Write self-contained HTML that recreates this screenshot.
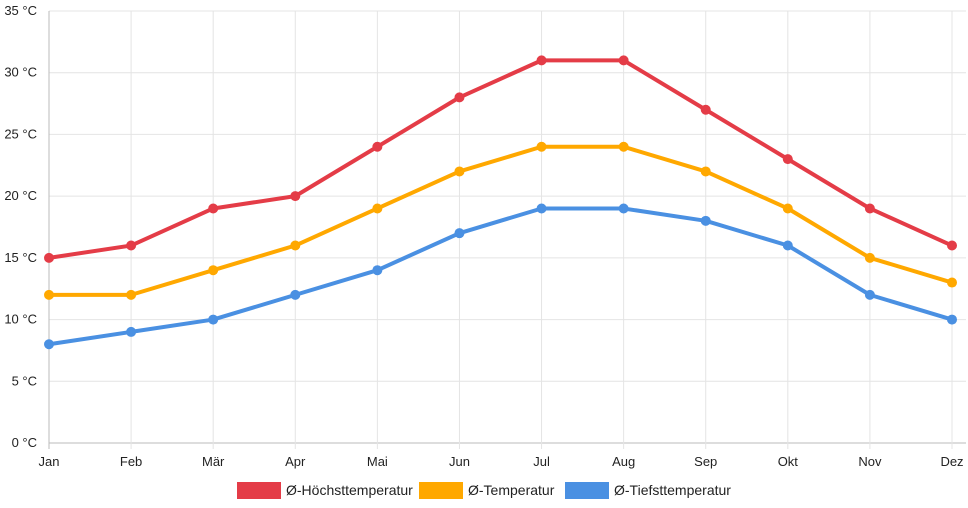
<!DOCTYPE html>
<html><head><meta charset="utf-8">
<style>
html,body{margin:0;padding:0;background:#fff;}
svg{display:block;font-family:"Liberation Sans",Arial,sans-serif;}
</style></head>
<body>
<svg id="chart" width="968" height="508">
<g id="grid"></g>
<g id="axes"></g>
<g id="series"></g>
<g id="legend"></g>
</svg>
<script>
const months = ["Jan","Feb","Mär","Apr","Mai","Jun","Jul","Aug","Sep","Okt","Nov","Dez"];
const highTemps = [15,16,19,20,24,28,31,31,27,23,19,16];
const avgTemps = [12,12,14,16,19,22,24,24,22,19,15,13];
const lowTemps = [8,9,10,12,14,17,19,19,18,16,12,10];
const yTicks = [0,5,10,15,20,25,30,35];
const seriesNames = ["Ø-Höchsttemperatur","Ø-Temperatur","Ø-Tiefsttemperatur"];

const NS="http://www.w3.org/2000/svg";
const x0=49,x1=952,yTop=11,yBot=443,yMax=35;
const xs=i=>x0+(x1-x0)*i/(months.length-1);
const ys=v=>yBot-(yBot-yTop)*v/yMax;
function mk(tag,attrs,parent){const e=document.createElementNS(NS,tag);for(const k in attrs)e.setAttribute(k,attrs[k]);parent.appendChild(e);return e;}
const grid=document.getElementById('grid'),axes=document.getElementById('axes'),ser=document.getElementById('series'),leg=document.getElementById('legend');

yTicks.forEach(t=>{
  const l=mk('line',{x1:x0,x2:x1+14,y1:ys(t),y2:ys(t),stroke:t===0?'#bbb':'#e4e4e4','stroke-width':1},grid);
  
  
  const tx=mk('text',{x:37,y:ys(t)+4,'text-anchor':'end','font-size':13,fill:'#222'},axes);
  tx.textContent=t+' °C';
  
  
});
months.forEach((m,i)=>{
  const l=mk('line',{x1:xs(i),x2:xs(i),y1:yTop,y2:yBot+6,stroke:i===0?'#bbb':'#e4e4e4','stroke-width':1},grid);
  
  
  const tx=mk('text',{x:xs(i),y:466,'text-anchor':'middle','font-size':13,fill:'#222'},axes);
  tx.textContent=m;
  
  
});

const all=[[highTemps,'#e43c47'],[avgTemps,'#ffa800'],[lowTemps,'#4a90e2']];
all.forEach(([data,col],si)=>{
  const g=mk('g',{},ser);
  
  
  const p=mk('polyline',{points:data.map((v,i)=>xs(i)+','+ys(v)).join(' '),fill:'none',stroke:col,'stroke-width':4,'stroke-linejoin':'round'},g);
  
  
  data.forEach((v,i)=>{
    const c=mk('circle',{cx:xs(i),cy:ys(v),r:5,fill:col},g);
    
    
  });
});

const legX=[237,419,565];
seriesNames.forEach((n,i)=>{
  const g=mk('g',{},leg);
  
  
  mk('rect',{x:legX[i],y:482,width:44,height:17,fill:all[i][1]},g);
  const t=mk('text',{x:legX[i]+49,y:495,'font-size':14,fill:'#222'},g);
  t.textContent=n;
});
</script>
</body></html>
